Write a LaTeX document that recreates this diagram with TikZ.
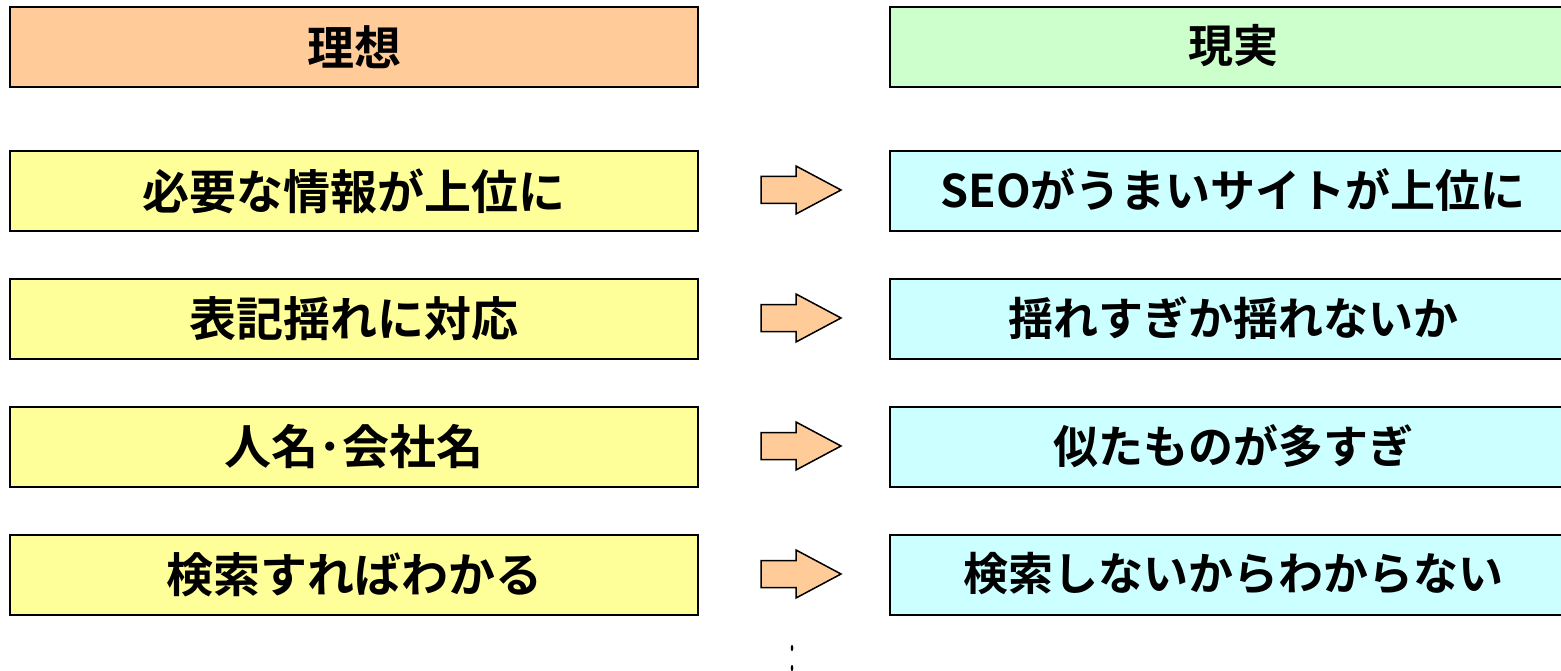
\documentclass[tikz,border=0pt]{standalone}
\usepackage{fontspec}
\setmainfont{Noto Sans CJK JP}[BoldFont={Noto Sans CJK JP Bold}]
\newfontfamily\jpbold{Noto Sans CJK JP Bold}
\definecolor{ideal}{HTML}{FFCC99}
\definecolor{real}{HTML}{CCFFCC}
\definecolor{leftbox}{HTML}{FFFF99}
\definecolor{rightbox}{HTML}{CCFFFF}
\begin{document}
\begin{tikzpicture}[x=1pt,y=-1pt,
  boxstyle/.style={draw=black,line width=2pt,minimum width=688pt,minimum height=80pt,inner sep=0pt,font=\jpbold\fontsize{47}{52}\selectfont},
  rboxstyle/.style={draw=black,line width=2pt,minimum width=700pt,minimum height=80pt,inner sep=0pt},
  rtext/.style={font=\jpbold\fontsize{45}{50}\selectfont,inner sep=0pt},
  arrowstyle/.style={draw=black,fill=ideal,line width=1.5pt,line join=miter}
]
\useasboundingbox (0,0) rectangle (1561,671);
% left column
\node[boxstyle,fill=ideal,anchor=north west] (l0) at (9,6) {理想};
\node[boxstyle,fill=leftbox,anchor=north west] (l1) at (9,150) {必要な情報が上位に};
\node[boxstyle,fill=leftbox,anchor=north west] (l2) at (9,278) {表記揺れに対応};
\node[boxstyle,fill=leftbox,anchor=north west] (l3) at (9,406) {人名･会社名};
\node[boxstyle,fill=leftbox,anchor=north west] (l4) at (9,534) {検索すればわかる};
% right column (extends past the right edge)
\foreach \n/\y/\c in {r0/6/real,r1/150/rightbox,r2/278/rightbox,r3/406/rightbox,r4/534/rightbox}{
  \node[rboxstyle,fill=\c,anchor=north west] (\n) at (889,\y) {};
}
\node[rtext] (t0) at (1233,46) {現実};
\node[rtext] (t1) at (1233,190) {SEOがうまいサイトが上位に};
\node[rtext] (t2) at (1233,318) {揺れすぎか揺れないか};
\node[rtext] (t3) at (1233,446) {似たものが多すぎ};
\node[rtext] (t4) at (1233,574) {検索しないからわからない};
% arrows
\foreach \y in {190,318,446,574}{
  \draw[arrowstyle] (761,\y-13.5) -- (796,\y-13.5) -- (796,\y-24) -- (841,\y) -- (796,\y+24) -- (796,\y+13.5) -- (761,\y+13.5) -- cycle;
}
% vertical dots
\fill (792,648) ellipse (1.3pt and 3pt);
\fill (792,668) ellipse (1.3pt and 3pt);
\end{tikzpicture}
\end{document}
